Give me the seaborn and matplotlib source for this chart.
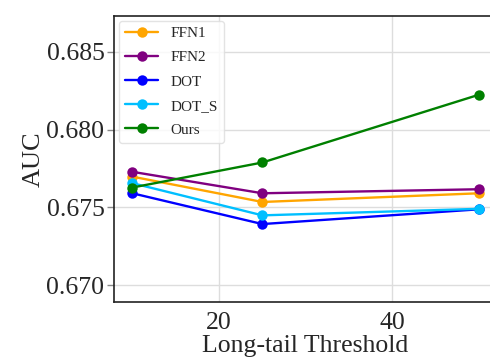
import matplotlib.pyplot as plt
import pandas as pd
import seaborn as sns

# data
thresholds = [10, 25, 50]
ffn1 = [0.67697, 0.67534, 0.67590]
ffn2 = [0.67728, 0.67590, 0.67616]
dot = [0.67590, 0.67392, 0.67487]
dot_s = [0.67655, 0.67448, 0.67490]
ours = [0.67627, 0.67788, 0.68224]

methods = ['FFN1', 'FFN2', 'DOT', 'DOT_S', 'Ours']
colors = ['orange', 'purple', 'blue', 'deepskyblue', 'green']

df = pd.DataFrame({
    'Threshold': thresholds * 5,
    'AUC': ffn1 + ffn2 + dot + dot_s + ours,
    'Method': [m for m in methods for _ in thresholds],
})

sns.set_theme(style='whitegrid')
plt.rcParams['font.family'] = ['Liberation Serif', 'DejaVu Serif']

fig = plt.figure(figsize=(4.9, 3.64), dpi=100)
ax = fig.add_axes([0.233, 0.170, 0.78, 0.786])

sns.lineplot(data=df, x='Threshold', y='AUC', hue='Method', hue_order=methods,
             palette=colors, marker='o', markersize=7.5, markeredgewidth=0,
             linewidth=1.7, ax=ax)

ax.set_xlim(7.9, 52)
ax.set_ylim(0.6689, 0.6873)
ax.set_yticks([0.670, 0.675, 0.680, 0.685])
ax.set_xticks([20, 40])
ax.set_xlabel('Long-tail Threshold', fontsize=18.5, labelpad=1)
ax.set_ylabel('AUC', fontsize=19, labelpad=1)
ax.tick_params(axis='both', labelsize=18.5, length=5, width=1, color='#888888',
               left=True, bottom=False, pad=2)
ax.grid(True, color='#dddddd', linewidth=1)
for s in ax.spines.values():
    s.set_color('#222222')
    s.set_linewidth(1.2)

leg = ax.legend(loc='upper left', fontsize=11, frameon=True, borderaxespad=0.3,
                handlelength=2.2, labelspacing=0.68)
leg.get_frame().set_edgecolor('#dddddd')

fig.savefig('out.png', dpi=100)
